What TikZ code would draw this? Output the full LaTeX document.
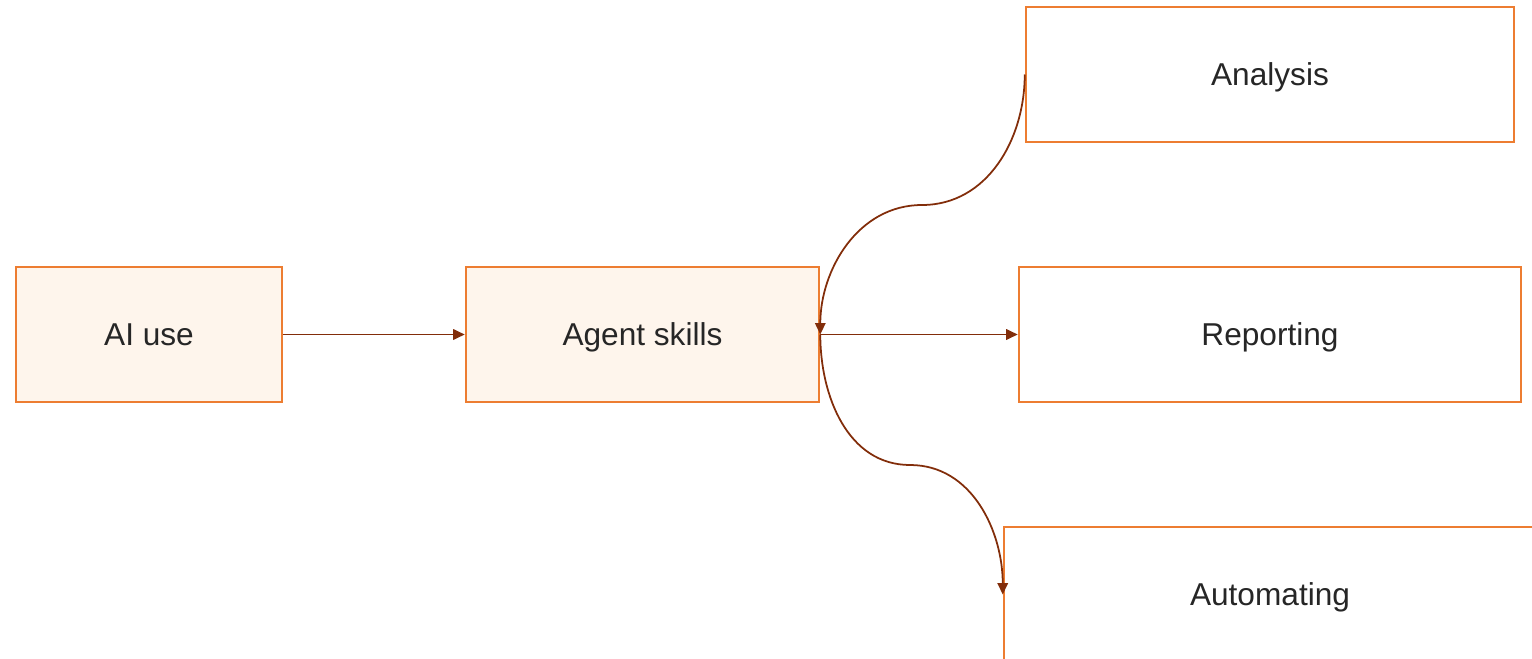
\documentclass[tikz,border=0pt]{standalone}
\usepackage{fontspec}
\setmainfont{Liberation Sans}
\usetikzlibrary{arrows.meta}
\definecolor{boxline}{RGB}{237,125,49}
\definecolor{boxfill}{RGB}{254,245,236}
\definecolor{linkcol}{RGB}{130,45,10}
\definecolor{txt}{RGB}{38,38,38}

\begin{document}
\begin{tikzpicture}[x=0.02cm,y=-0.02cm,>={Triangle[length=2.3mm,width=2.1mm]},
    box/.style={draw=boxline,line width=1.5pt,text=txt,font=\fontsize{18}{22}\selectfont,minimum height=2.7cm,inner sep=0pt,text depth=0pt},
    hbox/.style={box,fill=boxfill},
    link/.style={->,draw=linkcol,line width=1pt}]
      \useasboundingbox (0,0) rectangle (1532,659);
      \node[hbox,minimum width=5.32cm] (aiuse) at (149,334.5) {AI use};
      \node[hbox,minimum width=7.06cm] (agent) at (642.5,334.5) {Agent skills};
      \node[box,minimum width=9.76cm] (analysis) at (1270,74.5) {Analysis};
      \node[box,minimum width=10.04cm] (report) at (1270,334.5) {Reporting};
      \node[box,minimum width=10.64cm] (automate) at (1270,594.5) {Automating};
      \coordinate (upbend) at (922,205);
      \coordinate (lowbend) at (910,465);
      \draw[link] (aiuse) -- (agent);
      \draw[link] (agent) -- (report);
      \draw[link] (analysis.west) to[out=-90,in=0] (upbend) to[out=180,in=90] (agent.east);
      \draw[link] (agent.east) to[out=-90,in=180] (lowbend) to[out=0,in=90] (automate.west);
    \end{tikzpicture}
\end{document}
